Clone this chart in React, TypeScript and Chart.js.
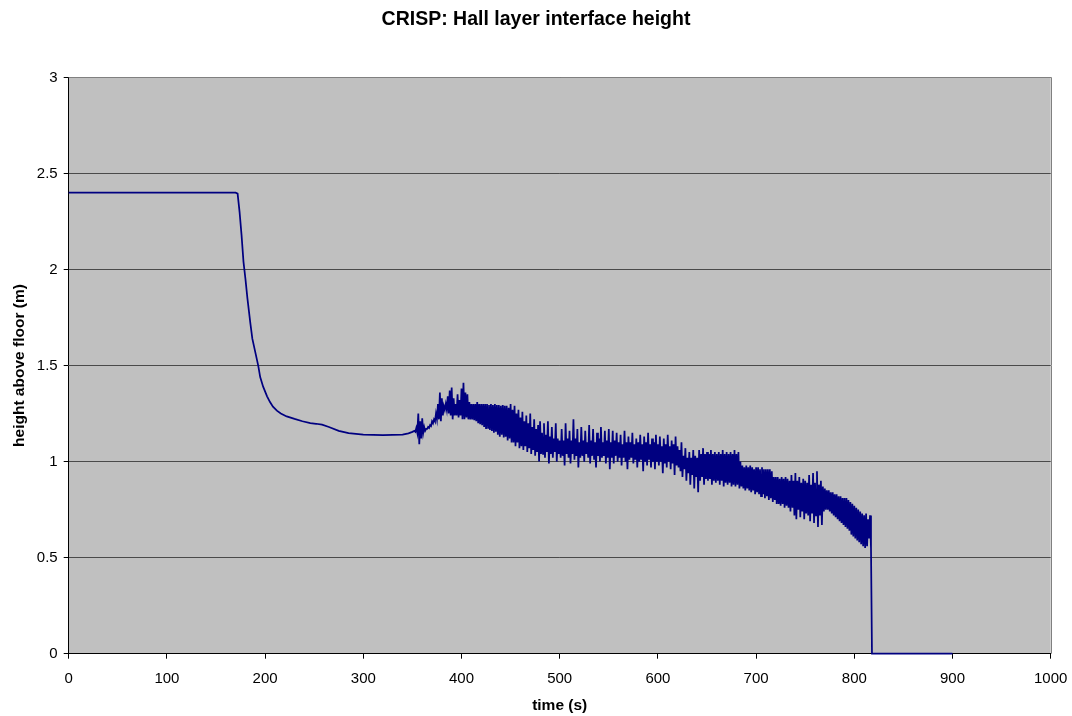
import React, { useEffect, useRef } from "react";
import { Chart, registerables } from "chart.js";

Chart.register(...registerables);

const TITLE = "CRISP: Hall layer interface height";
const X_TITLE = "time (s)";
const Y_TITLE = "height above floor (m)";
const FONT = "'Liberation Sans', Arial, Helvetica, sans-serif";

// Smooth part of the curve (time in s, height in m)
const smoothTimes = [0, 170, 172, 174, 176, 178, 180, 182, 185, 187, 190, 193, 195, 198, 202, 205, 208, 212, 216, 222, 230, 238, 246, 252, 258, 265, 275, 285, 300, 320, 340, 346, 350];
const smoothHeights = [2.4, 2.4, 2.395, 2.3, 2.18, 2.04, 1.95, 1.85, 1.72, 1.64, 1.57, 1.5, 1.44, 1.39, 1.34, 1.31, 1.286, 1.265, 1.25, 1.235, 1.222, 1.21, 1.2, 1.197, 1.192, 1.18, 1.16, 1.148, 1.14, 1.138, 1.14, 1.147, 1.155];

// Oscillating part: samples every second from oscStart, alternating peak / trough
const oscStart = 352;
const oscPeaks = [
  1.16, 1.175, 1.25, 1.21, 1.225,
  1.18, 1.17, 1.18, 1.19, 1.21,
  1.22, 1.25, 1.3, 1.36, 1.33,
  1.29, 1.3, 1.34, 1.37, 1.385,
  1.33, 1.3, 1.35, 1.32, 1.38,
  1.41, 1.36, 1.35, 1.31, 1.3,
  1.3, 1.3, 1.31, 1.3, 1.3,
  1.3, 1.3, 1.3, 1.295, 1.3,
  1.295, 1.3, 1.295, 1.295, 1.29,
  1.295, 1.29, 1.29, 1.28, 1.3,
  1.27, 1.29, 1.25, 1.27, 1.23,
  1.26, 1.21, 1.24, 1.2, 1.25,
  1.18, 1.22, 1.17, 1.19, 1.21,
  1.15, 1.2, 1.14, 1.21, 1.13,
  1.18, 1.12, 1.2, 1.12, 1.11,
  1.17, 1.11, 1.2, 1.12, 1.16,
  1.11, 1.22, 1.12, 1.17, 1.1,
  1.18, 1.11, 1.16, 1.1, 1.19,
  1.11, 1.17, 1.1, 1.15, 1.12,
  1.18, 1.1, 1.16, 1.11, 1.17,
  1.1, 1.16, 1.11, 1.15, 1.1,
  1.14, 1.09, 1.16, 1.1, 1.13,
  1.1, 1.15, 1.09, 1.12, 1.1,
  1.14, 1.09, 1.13, 1.1, 1.15,
  1.09, 1.12, 1.1, 1.14, 1.09,
  1.13, 1.08, 1.12, 1.09, 1.14,
  1.08, 1.11, 1.09, 1.13, 1.08,
  1.06, 1.1, 1.03, 1.07, 1.02,
  1.05, 1.02, 1.06, 1.03, 1.02,
  1.06, 1.04, 1.07, 1.04, 1.05,
  1.04, 1.06, 1.04, 1.05, 1.04,
  1.05, 1.04, 1.06, 1.04, 1.05,
  1.04, 1.05, 1.04, 1.06, 1.04,
  1.05, 1.0, 0.98, 0.97, 0.98,
  0.97, 0.98, 0.97, 0.96, 0.97,
  0.97, 0.96, 0.97, 0.96, 0.96,
  0.96, 0.96, 0.95, 0.92, 0.92,
  0.92, 0.91, 0.92, 0.91, 0.92,
  0.91, 0.9, 0.93, 0.9, 0.94,
  0.9, 0.92, 0.89, 0.91, 0.9,
  0.89, 0.93, 0.88, 0.94, 0.89,
  0.95, 0.88, 0.9, 0.87, 0.86,
  0.85, 0.85, 0.84, 0.84, 0.83,
  0.83, 0.82, 0.82, 0.81, 0.81,
  0.81, 0.8, 0.79, 0.78, 0.77,
  0.76, 0.75, 0.74, 0.73, 0.72,
  0.73, 0.7, 0.72,
];
const oscTroughs = [
  1.155, 1.15, 1.09, 1.12, 1.15,
  1.16, 1.17, 1.175, 1.185, 1.2,
  1.21, 1.22, 1.22, 1.21, 1.24,
  1.27, 1.27, 1.25, 1.24, 1.22,
  1.24, 1.24, 1.23, 1.24, 1.22,
  1.22, 1.23, 1.22, 1.22, 1.22,
  1.215, 1.21, 1.2, 1.195, 1.19,
  1.18, 1.17, 1.175, 1.165, 1.16,
  1.15, 1.155, 1.14, 1.13, 1.14,
  1.125, 1.13, 1.11, 1.12, 1.1,
  1.1, 1.08, 1.1, 1.07, 1.08,
  1.06, 1.08, 1.05, 1.07, 1.04,
  1.06, 1.03, 1.05, 1.0, 1.04,
  1.04, 1.02, 1.05, 0.99, 1.04,
  1.02, 1.05, 1.0, 1.04, 1.02,
  1.03, 0.98, 1.04, 1.02, 0.99,
  1.04, 1.01, 1.03, 0.97, 1.02,
  1.03, 1.0, 1.04, 1.02, 0.99,
  1.03, 1.01, 0.97, 1.03, 1.0,
  1.02, 1.03, 0.99, 1.02, 0.96,
  1.02, 0.99, 1.03, 1.0, 1.02,
  0.98, 1.02, 1.0, 0.96, 1.01,
  1.02, 0.99, 1.01, 0.97, 1.0,
  1.01, 0.95, 1.0, 0.98, 1.01,
  0.97, 1.0, 0.96, 1.0, 0.98,
  1.0, 0.94, 0.99, 0.97, 1.0,
  0.96, 0.99, 0.93, 0.98, 0.97,
  0.95, 0.92, 0.96, 0.9, 0.94,
  0.88, 0.93, 0.86, 0.92, 0.84,
  0.9, 0.92, 0.88, 0.91, 0.9,
  0.91, 0.88, 0.9, 0.89, 0.9,
  0.88, 0.9, 0.87, 0.89, 0.88,
  0.89, 0.87, 0.88, 0.87, 0.88,
  0.86, 0.87, 0.86, 0.85, 0.86,
  0.85, 0.84, 0.85, 0.83, 0.84,
  0.83, 0.82, 0.83, 0.81, 0.82,
  0.8, 0.81, 0.79, 0.8, 0.78,
  0.78, 0.77, 0.78, 0.76, 0.77,
  0.76, 0.74, 0.76, 0.72, 0.7,
  0.75, 0.71, 0.74, 0.7, 0.73,
  0.72, 0.69, 0.73, 0.68, 0.72,
  0.66, 0.72, 0.67, 0.74, 0.75,
  0.75, 0.74, 0.73, 0.72, 0.71,
  0.7, 0.69, 0.68, 0.67, 0.66,
  0.65, 0.64, 0.62, 0.61, 0.6,
  0.59, 0.58, 0.57, 0.56, 0.55,
  0.56, 0.6, 0.55,
];

// Collapse at the end
const tailTimes = [818, 900];
const tailHeights = [0, 0];

const X_MIN = 0, X_MAX = 1000, X_STEP = 100;
const Y_MIN = 0, Y_MAX = 3, Y_STEP = 0.5;

function buildPoints() {
  const pts: { x: number; y: number }[] = [];
  smoothTimes.forEach((t, i) => pts.push({ x: t, y: smoothHeights[i] }));
  oscPeaks.forEach((v, i) => {
    pts.push({ x: oscStart + 2 * i, y: v });
    pts.push({ x: oscStart + 2 * i + 1, y: oscTroughs[i] });
  });
  tailTimes.forEach((t, i) => pts.push({ x: t, y: tailHeights[i] }));
  return pts;
}

const plotArea = {
  id: "plotArea",
  beforeDraw(chart: any) {
    const { ctx, chartArea } = chart;
    const { left, top, right, bottom } = chartArea;
    ctx.save();
    ctx.fillStyle = "#C0C0C0";
    ctx.fillRect(left, top, right - left, bottom - top);
    ctx.restore();
  },
  beforeDatasetsDraw(chart: any) {
    const { ctx, chartArea } = chart;
    const { left, top, right, bottom } = chartArea;
    ctx.save();
    ctx.strokeStyle = "#808080";
    ctx.lineWidth = 1;
    ctx.beginPath();
    ctx.moveTo(left, Math.round(top) + 0.5);
    ctx.lineTo(Math.round(right) + 0.5, Math.round(top) + 0.5);
    ctx.lineTo(Math.round(right) + 0.5, bottom);
    ctx.stroke();
    ctx.restore();
  },
};

export default function App() {
  const ref = useRef<HTMLCanvasElement | null>(null);
  useEffect(() => {
    if (!ref.current) return;
    const chart = new Chart(ref.current, {
      type: "line",
      data: {
        datasets: [
          {
            label: "interface height",
            data: buildPoints(),
            borderColor: "#000080",
            borderWidth: 1.75,
            pointRadius: 0,
            tension: 0,
            fill: false,
            clip: 3,
          },
        ],
      },
      options: {
        responsive: false,
        animation: false,
        layout: { padding: 0 },
        plugins: {
          legend: { display: false },
          tooltip: { enabled: false },
          title: {
            display: true,
            text: TITLE,
            color: "#000",
            font: { family: FONT, size: 19.5, weight: "bold" },
            padding: { top: 8, bottom: 46 },
          },
        },
        scales: {
          x: {
            type: "linear",
            min: X_MIN,
            max: X_MAX,
            afterFit: (s: any) => { s.height = 62.3; s.paddingLeft = 0; s.paddingRight = 0; },
            ticks: {
              stepSize: X_STEP,
              color: "#000",
              font: { family: FONT, size: 15 },
              padding: 11,
              maxRotation: 0,
              callback: (v: any) => String(v),
            },
            grid: { drawOnChartArea: false, tickLength: 5, tickColor: "#000" },
            border: { color: "#000", width: 1 },
            title: { display: true, text: X_TITLE, color: "#000", font: { family: FONT, size: 15.5, weight: "bold" }, padding: { top: 2, bottom: 1 } },
          },
          y: {
            type: "linear",
            position: "left",
            min: Y_MIN,
            max: Y_MAX,
            afterFit: (s: any) => { s.width = 68.7; },
            ticks: {
              stepSize: Y_STEP,
              color: "#000",
              font: { family: FONT, size: 15 },
              padding: 6,
              callback: (v: any) => String(v),
            },
            grid: { color: "#4a4a4a", lineWidth: 1, tickLength: 5, tickColor: "#000" },
            border: { color: "#000", width: 1 },
            title: { display: true, text: Y_TITLE, color: "#000", font: { family: FONT, size: 15.5, weight: "bold" }, padding: { top: 10, bottom: 4 } },
          },
          rightSpace: {
            type: "linear",
            position: "right",
            display: true,
            min: Y_MIN,
            max: Y_MAX,
            afterFit: (s: any) => { s.width = 21.3; },
            ticks: { display: false },
            grid: { display: false, drawTicks: false },
            border: { display: false },
          },
        },
      },
      plugins: [plotArea],
    } as any);
    return () => chart.destroy();
  }, []);
  return (
    <div style={{ position: "absolute", left: 0, top: 0, width: 1072, height: 716 }}>
      <canvas ref={ref} width={1072} height={716} />
    </div>
  );
}
